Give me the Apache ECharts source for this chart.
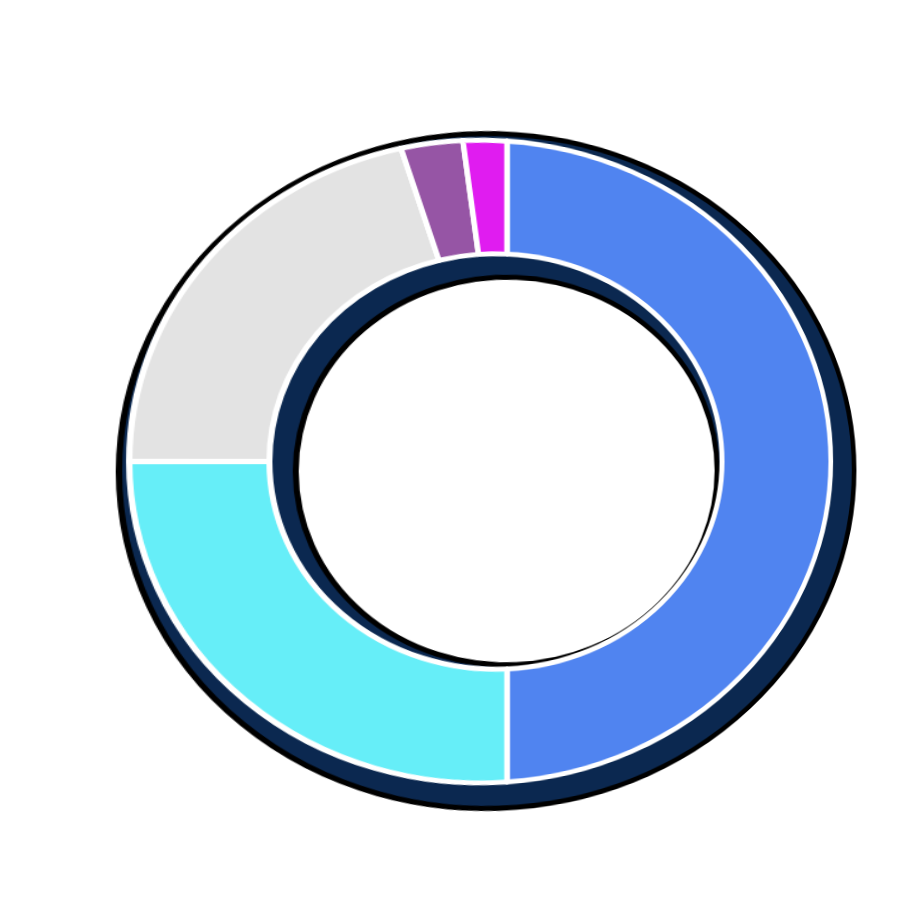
<!DOCTYPE html>
<html>
<head>
<meta charset="utf-8">
<script src="https://cdn.jsdelivr.net/npm/echarts@6/dist/echarts.min.js"></script>
<style>
html,body{margin:0;padding:0;background:#ffffff;overflow:hidden;width:920px;height:924px;}
#chart{position:absolute;left:0;top:0;width:920px;height:924px;
  transform-origin:507px 461.5px;
  transform:matrix3d(1.088,0,0,0.00024, 0,1,0,0, 0,0,1,0, 0,0,0,1);}
</style>
</head>
<body>
<div id="chart"></div>
<script>
// Data (shares in percent), clockwise from 12 o'clock
const categories = ['Segment A', 'Segment B', 'Segment C', 'Segment D', 'Segment E'];
const values = [50, 25, 20.2, 2.8, 2.0];
const colors = ['#5084f0', '#66eef8', '#e3e3e3', '#9655a5', '#e01cf0'];

const total = values.reduce((a, b) => a + b, 0);

const chart = echarts.init(document.getElementById('chart'), null, {
  renderer: 'canvas',
  devicePixelRatio: 1
});

const cx = 507, cy = 461.5;

chart.setOption({
  animation: false,
  backgroundColor: '#ffffff',
  series: [
    {
      type: 'pie',
      silent: true,
      center: [cx + 8.5, cy + 9.5],
      radius: [194, 337],
      startAngle: 90,
      label: { show: false },
      labelLine: { show: false },
      emphasis: { disabled: true },
      itemStyle: { color: '#0b2850', borderColor: '#000000', borderWidth: 5 },
      data: [{ name: 'shadow', value: total }]
    },
    {
      type: 'pie',
      silent: true,
      center: [cx, cy],
      radius: [207.5, 320.5],
      startAngle: 90,
      clockwise: true,
      avoidLabelOverlap: false,
      label: { show: false },
      labelLine: { show: false },
      emphasis: { disabled: true },
      itemStyle: { borderColor: '#ffffff', borderWidth: 5 },
      data: categories.map((c, i) => ({
        name: c,
        value: values[i],
        itemStyle: { color: colors[i] }
      }))
    }
  ]
});
</script>
</body>
</html>
